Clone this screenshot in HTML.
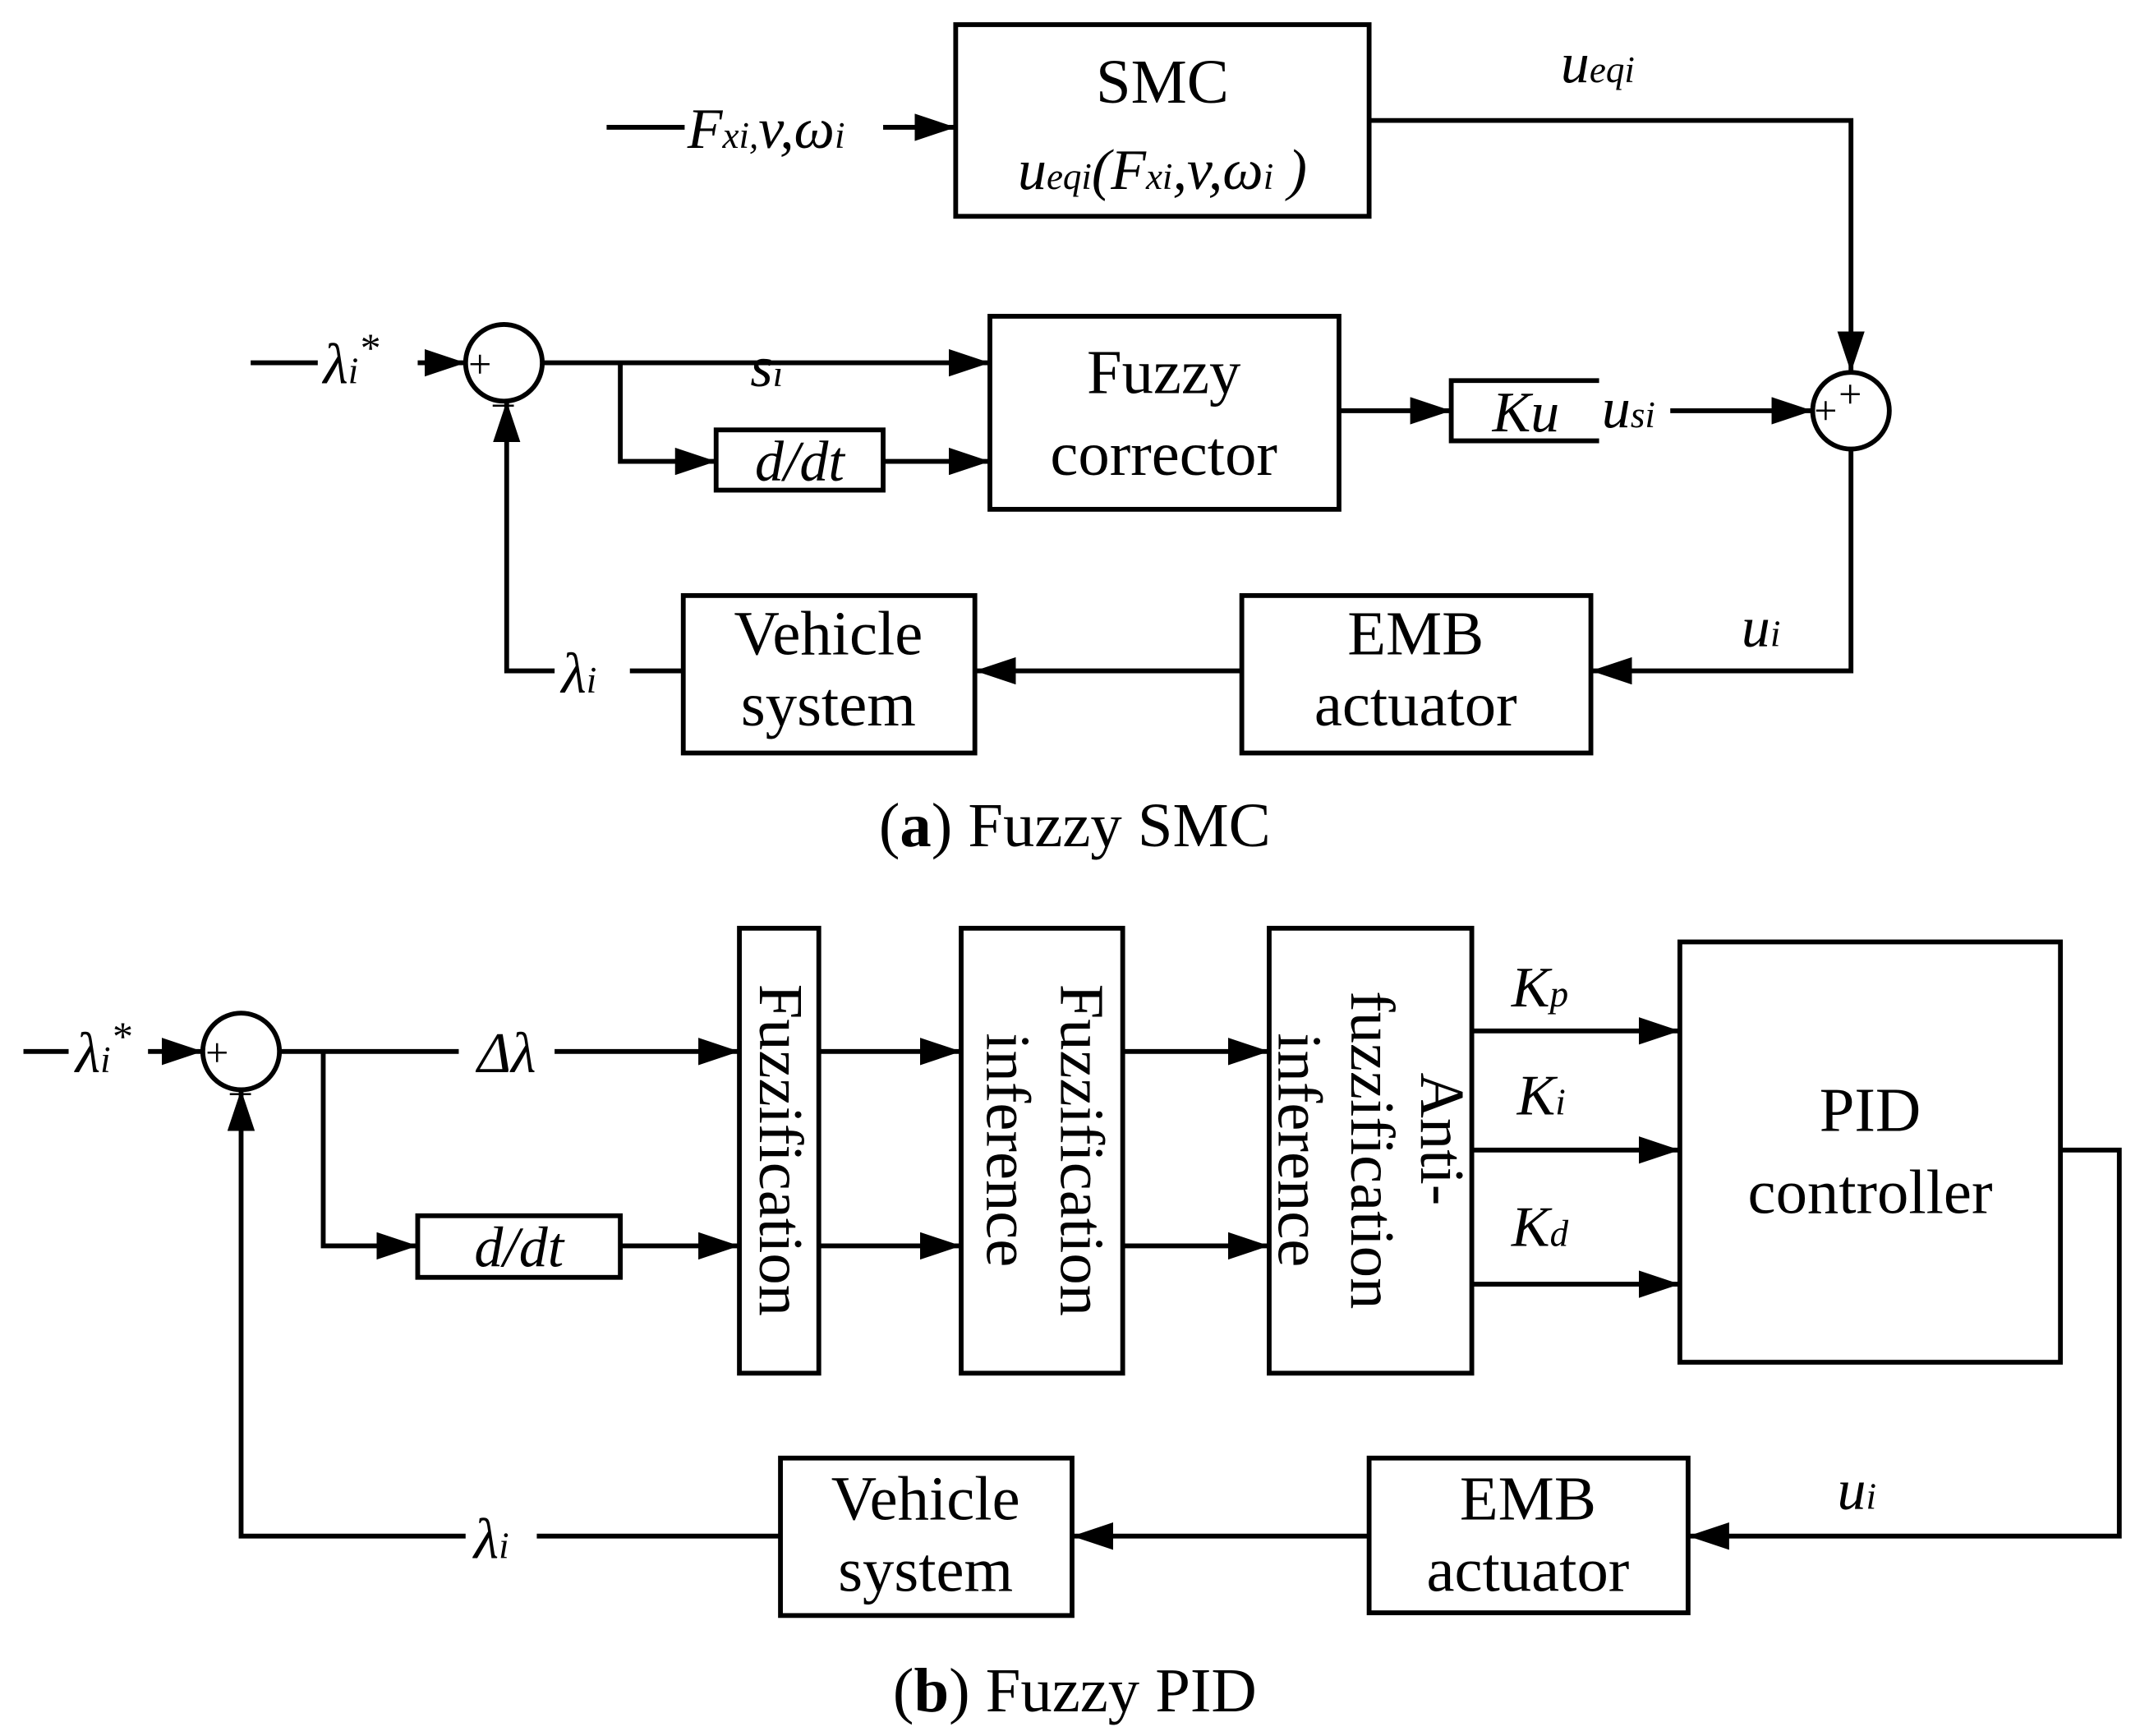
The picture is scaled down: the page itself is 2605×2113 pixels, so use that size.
<!DOCTYPE html>
<html><head><meta charset="utf-8"><style>
html,body{margin:0;padding:0;background:#fff;}
svg{display:block;}
text{font-family:"Liberation Serif",serif;fill:#000;}
.b{font-size:46px;}
.m{font-size:42px;font-style:italic;}
.s{font-size:27px;font-style:italic;}
</style></head><body>
<svg width="2605" height="2113" viewBox="0 0 1563 1268" xmlns="http://www.w3.org/2000/svg">
<defs>
<marker id="A" viewBox="0 0 30 20" refX="30" refY="10" markerWidth="30" markerHeight="20" orient="auto" markerUnits="userSpaceOnUse"><path d="M0,0 L30,10 L0,20 z"/></marker></defs>
<g fill="none" stroke="#000" stroke-width="3.5">
<!-- top -->
<rect x="698" y="18" width="302" height="140"/>
<line x1="443" y1="93" x2="500" y2="93"/>
<line x1="645" y1="93" x2="698" y2="93" marker-end="url(#A)"/>
<polyline points="1000,88 1352,88 1352,272" marker-end="url(#A)"/>
<circle cx="368" cy="265" r="28"/>
<circle cx="1352" cy="300" r="28"/>
<line x1="183" y1="265" x2="232" y2="265"/>
<line x1="305" y1="265" x2="340" y2="265" marker-end="url(#A)"/>
<line x1="396" y1="265" x2="723" y2="265" marker-end="url(#A)"/>
<polyline points="453,265 453,337 523,337" marker-end="url(#A)"/>
<rect x="523" y="314" width="122" height="44"/>
<line x1="645" y1="337" x2="723" y2="337" marker-end="url(#A)"/>
<rect x="723" y="231" width="255" height="141"/>
<line x1="978" y1="300" x2="1060" y2="300" marker-end="url(#A)"/>
<polyline points="1168,278 1060,278 1060,322 1168,322"/>
<line x1="1220" y1="300" x2="1324" y2="300" marker-end="url(#A)"/>
<polyline points="1352,328 1352,490 1162,490" marker-end="url(#A)"/>
<rect x="907" y="435" width="255" height="115"/>
<line x1="907" y1="490" x2="712" y2="490" marker-end="url(#A)"/>
<rect x="499" y="435" width="213" height="115"/>
<line x1="499" y1="490" x2="460" y2="490"/>
<polyline points="405,490 370,490 370,293" marker-end="url(#A)"/>
<!-- bottom -->
<circle cx="176" cy="768" r="28"/>
<line x1="17" y1="768" x2="50" y2="768"/>
<line x1="108" y1="768" x2="148" y2="768" marker-end="url(#A)"/>
<line x1="204" y1="768" x2="335" y2="768"/>
<line x1="405" y1="768" x2="540" y2="768" marker-end="url(#A)"/>
<polyline points="236,768 236,910 305,910" marker-end="url(#A)"/>
<rect x="305" y="888" width="148" height="45"/>
<line x1="453" y1="910" x2="540" y2="910" marker-end="url(#A)"/>
<rect x="540" y="678" width="58" height="325"/>
<line x1="598" y1="768" x2="702" y2="768" marker-end="url(#A)"/>
<line x1="598" y1="910" x2="702" y2="910" marker-end="url(#A)"/>
<rect x="702" y="678" width="118" height="325"/>
<line x1="820" y1="768" x2="927" y2="768" marker-end="url(#A)"/>
<line x1="820" y1="910" x2="927" y2="910" marker-end="url(#A)"/>
<rect x="927" y="678" width="148" height="325"/>
<line x1="1075" y1="753" x2="1227" y2="753" marker-end="url(#A)"/>
<line x1="1075" y1="840" x2="1227" y2="840" marker-end="url(#A)"/>
<line x1="1075" y1="938" x2="1227" y2="938" marker-end="url(#A)"/>
<rect x="1227" y="688" width="278" height="307"/>
<polyline points="1505,840 1548,840 1548,1122 1233,1122" marker-end="url(#A)"/>
<rect x="1000" y="1065" width="233" height="113"/>
<line x1="1000" y1="1122" x2="783" y2="1122" marker-end="url(#A)"/>
<rect x="570" y="1065" width="213" height="115"/>
<line x1="570" y1="1122" x2="392" y2="1122"/>
<polyline points="340,1122 176,1122 176,796" marker-end="url(#A)"/>
</g>
<!-- text top -->
<text class="b" x="849" y="75" text-anchor="middle">SMC</text>
<text class="m" x="849" y="138" text-anchor="middle">u<tspan class="s">eqi</tspan>(F<tspan class="s">xi</tspan>,v,ω<tspan class="s">i</tspan> )</text>
<text class="m" x="502" y="108">F<tspan class="s">xi,</tspan>v,ω<tspan class="s">i</tspan></text>
<text class="m" x="1140" y="60">u<tspan class="s">eqi</tspan></text>
<text class="m" x="236" y="280">λ<tspan class="s">i</tspan><tspan font-size="30" dy="-16">*</tspan></text>
<text x="342" y="276" font-size="30">+</text>
<text x="360" y="293" font-size="30">_</text>
<text x="1325" y="310" font-size="30">+</text>
<text x="1343" y="298" font-size="30">+</text>
<text class="m" x="548" y="282">s<tspan class="s">i</tspan></text>
<text class="m" x="584" y="351" text-anchor="middle">d/dt</text>
<text class="b" x="850" y="287" text-anchor="middle">Fuzzy</text>
<text class="b" x="850" y="347" text-anchor="middle">corrector</text>
<text class="m" x="1090" y="315">Ku</text>
<text class="m" x="1170" y="312">u<tspan class="s">si</tspan></text>
<text class="m" x="1272" y="472">u<tspan class="s">i</tspan></text>
<text class="b" x="1034" y="478" text-anchor="middle">EMB</text>
<text class="b" x="1034" y="530" text-anchor="middle">actuator</text>
<text class="b" x="605" y="478" text-anchor="middle">Vehicle</text>
<text class="b" x="605" y="530" text-anchor="middle">system</text>
<text class="m" x="410" y="506">λ<tspan class="s">i</tspan></text>
<text font-size="46" x="785" y="618" text-anchor="middle">(<tspan font-weight="bold">a</tspan>) Fuzzy SMC</text>
<!-- text bottom -->
<text class="m" x="55" y="783">λ<tspan class="s">i</tspan><tspan font-size="30" dy="-16">*</tspan></text>
<text x="150" y="779" font-size="30">+</text>
<text x="168" y="796" font-size="30">_</text>
<text class="m" x="370" y="783" text-anchor="middle">Δλ</text>
<text class="m" x="379" y="925" text-anchor="middle">d/dt</text>
<text transform="translate(555,840) rotate(90)" text-anchor="middle" class="b">Fuzzification</text>
<text transform="translate(775,840) rotate(90)" text-anchor="middle" class="b">Fuzzification</text>
<text transform="translate(721,840) rotate(90)" text-anchor="middle" class="b">inference</text>
<text transform="translate(1038,832) rotate(90)" text-anchor="middle" class="b">Anti-</text>
<text transform="translate(987,840) rotate(90)" text-anchor="middle" class="b">fuzzification</text>
<text transform="translate(934,840) rotate(90)" text-anchor="middle" class="b">inference</text>
<text class="m" x="1104" y="735">K<tspan class="s">p</tspan></text>
<text class="m" x="1108" y="814">K<tspan class="s">i</tspan></text>
<text class="m" x="1104" y="910">K<tspan class="s">d</tspan></text>
<text class="b" x="1366" y="826" text-anchor="middle">PID</text>
<text class="b" x="1366" y="886" text-anchor="middle">controller</text>
<text class="m" x="1342" y="1102">u<tspan class="s">i</tspan></text>
<text class="b" x="1116" y="1110" text-anchor="middle">EMB</text>
<text class="b" x="1116" y="1162" text-anchor="middle">actuator</text>
<text class="b" x="676" y="1110" text-anchor="middle">Vehicle</text>
<text class="b" x="676" y="1162" text-anchor="middle">system</text>
<text class="m" x="346" y="1138">λ<tspan class="s">i</tspan></text>
<text font-size="46" x="785" y="1250" text-anchor="middle">(<tspan font-weight="bold">b</tspan>) Fuzzy PID</text>
</svg>
</body></html>
